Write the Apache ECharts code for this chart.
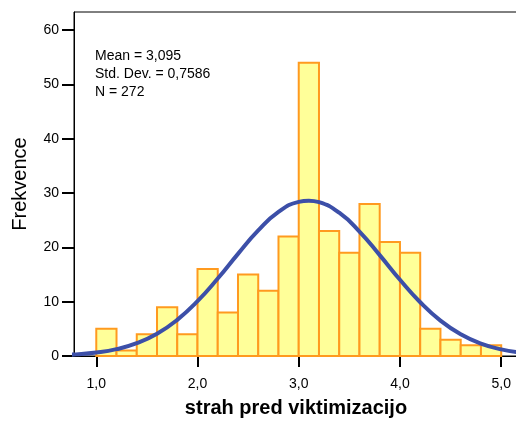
<!DOCTYPE html>
<html>
<head>
<meta charset="utf-8">
<script src="https://cdn.jsdelivr.net/npm/echarts@6/dist/echarts.min.js"></script>
<style>
  html, body { margin: 0; padding: 0; background: #fff; }
  #main { width: 516px; height: 423px; }
</style>
</head>
<body>
<div id="main"></div>
<script>
// histogram bins (start of each bin) and counts
var binStarts = [1.0, 1.2, 1.4, 1.6, 1.8, 2.0, 2.2, 2.4, 2.6, 2.8,
                 3.0, 3.2, 3.4, 3.6, 3.8, 4.0, 4.2, 4.4, 4.6, 4.8];
var binWidth = 0.2;
var counts = [5, 1, 4, 9, 4, 16, 8, 15, 12, 22,
              54, 23, 19, 28, 21, 19, 5, 3, 2, 2];

// normal curve
var curveX = [0.6, 0.8, 1.0, 1.2, 1.4, 1.6, 1.8, 2.0, 2.2, 2.4, 2.6, 2.8, 3.0, 3.1,
              3.2, 3.4, 3.6, 3.8, 4.0, 4.2, 4.4, 4.6, 4.8, 5.0, 5.2];
var curveY = [0.13, 0.30, 0.63, 1.26, 2.36, 4.10, 6.66, 10.09, 14.26, 18.81, 23.12, 26.53, 28.39, 28.61,
              28.34, 26.39, 22.92, 18.58, 14.04, 9.90, 6.51, 4.00, 2.29, 1.22, 0.61];

var xTicks = [1, 2, 3, 4, 5];
var yTicks = [0, 10, 20, 30, 40, 50, 60];
var statLines = ['Mean = 3,095', 'Std. Dev. = 0,7586', 'N = 272'];

var font = 'Liberation Sans, Arial, sans-serif';

var chart = echarts.init(document.getElementById('main'));

var barData = binStarts.map(function (s, i) {
    return [s, s + binWidth, counts[i]];
});
var lineData = curveX.map(function (x, i) {
    return [x, curveY[i]];
});

chart.setOption({
    backgroundColor: '#fff',
    animation: false,
    grid: {
        left: 74, top: 12, right: -2, bottom: 67,
        outerBoundsMode: 'none',
        containLabel: false,
        show: true,
        borderColor: '#000',
        borderWidth: 1
    },
    xAxis: {
        type: 'value',
        min: 0.78,
        max: 5.166,
        name: 'strah pred viktimizacijo',
        nameLocation: 'middle',
        nameGap: 42,
        nameTextStyle: { fontFamily: font, fontSize: 20, fontWeight: 'bold', color: '#000' },
        splitLine: { show: false },
        axisLine: { show: true, lineStyle: { color: '#000', width: 1 } },
        axisTick: {
            show: true, length: 11, inside: false,
            customValues: xTicks,
            lineStyle: { color: '#000', width: 2 }
        },
        axisLabel: {
            customValues: xTicks,
            margin: 21,
            fontFamily: font, fontSize: 14, color: '#000',
            formatter: function (v) { return v.toFixed(1).replace('.', ','); }
        }
    },
    yAxis: {
        type: 'value',
        min: 0,
        max: 63.35,
        name: 'Frekvence',
        nameLocation: 'middle',
        nameGap: 44,
        nameTextStyle: { fontFamily: font, fontSize: 20, color: '#000' },
        splitLine: { show: false },
        axisLine: { show: true, lineStyle: { color: '#000', width: 1 } },
        axisTick: {
            show: true, length: 12,
            customValues: yTicks,
            lineStyle: { color: '#000', width: 2 }
        },
        axisLabel: {
            customValues: yTicks,
            margin: 15,
            fontFamily: font, fontSize: 14, color: '#000'
        }
    },
    graphic: [{
        type: 'text',
        left: 95,
        top: 47,
        style: {
            text: statLines.join('\n'),
            fontFamily: font,
            fontSize: 14,
            lineHeight: 18,
            fill: '#000'
        }
    }],
    series: [{
        type: 'custom',
        data: barData,
        encode: { x: [0, 1], y: 2 },
        renderItem: function (params, api) {
            var p0 = api.coord([api.value(0), api.value(2)]);
            var p1 = api.coord([api.value(1), 0]);
            return {
                type: 'rect',
                shape: { x: p0[0], y: p0[1], width: p1[0] - p0[0], height: p1[1] - p0[1] },
                style: { fill: '#FFFF99', stroke: '#FF9A1F', lineWidth: 2 }
            };
        },
        z: 2
    }, {
        type: 'line',
        data: lineData,
        smooth: true,
        showSymbol: false,
        clip: true,
        lineStyle: { color: '#3C4FA8', width: 4 },
        z: 3
    }]
});
</script>
</body>
</html>
